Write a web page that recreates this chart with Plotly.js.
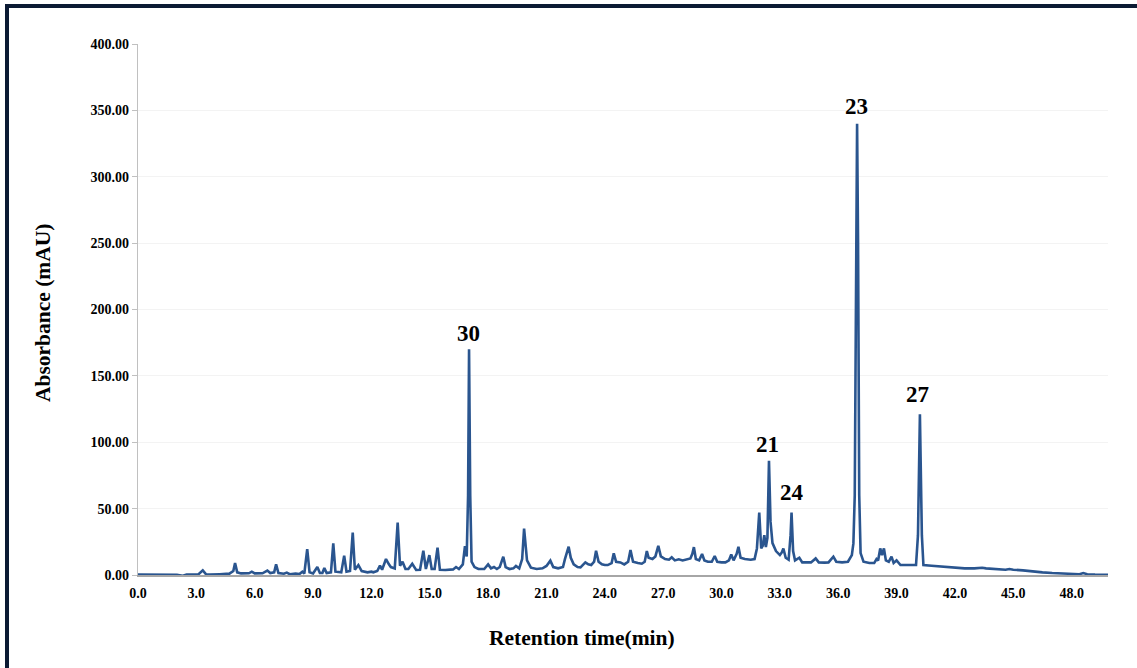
<!DOCTYPE html>
<html>
<head>
<meta charset="utf-8">
<script src="https://cdn.plot.ly/plotly-3.0.1.min.js"></script>
<style>
  html, body { margin: 0; padding: 0; background: #fff; overflow: hidden; }
  #wrap { position: relative; width: 1137px; height: 668px; }
  #chart { width: 1137px; height: 668px; }
  #frame { position: absolute; left: 5px; top: 4px; width: 1140px; height: 700px;
           border-top: 4px solid #0b1a33; border-left: 4px solid #0b1a33; pointer-events: none; }
</style>
</head>
<body>
<div id="wrap">
  <div id="chart"></div>
  <div id="frame"></div>
</div>
<script>
// Retention time (min) and absorbance (mAU)
const retentionTime = [
  0.0, 1.0, 2.0, 2.3, 2.5, 3.1, 3.33, 3.5, 3.7, 4.2, 4.7, 4.9, 4.99, 5.1, 5.3, 5.7, 5.85, 6.0, 6.4, 6.65,
  6.8, 7.0, 7.1, 7.22, 7.5, 7.65, 7.8, 8.1, 8.3, 8.45, 8.55, 8.7, 8.82, 9.0, 9.22, 9.35, 9.48, 9.58, 9.7, 9.92,
  10.04, 10.15, 10.45, 10.6, 10.72, 10.9, 11.04, 11.15, 11.33, 11.5, 11.8, 12.0, 12.1, 12.3, 12.44, 12.55, 12.75, 12.9, 13.0, 13.2,
  13.35, 13.47, 13.6, 13.75, 13.9, 14.1, 14.3, 14.5, 14.67, 14.8, 14.98, 15.1, 15.25, 15.4, 15.52, 15.8, 16.0, 16.2, 16.35, 16.5,
  16.7, 16.81, 16.9, 16.97, 17.02, 17.08, 17.15, 17.3, 17.5, 17.8, 18.0, 18.15, 18.3, 18.45, 18.6, 18.78, 18.9, 19.1, 19.3, 19.43,
  19.6, 19.75, 19.85, 19.92, 20.0, 20.2, 20.5, 20.8, 21.0, 21.2, 21.35, 21.6, 21.85, 21.95, 22.05, 22.14, 22.25, 22.4, 22.6, 22.75,
  22.9, 23.0, 23.15, 23.3, 23.45, 23.55, 23.68, 23.85, 24.0, 24.15, 24.35, 24.46, 24.58, 24.8, 25.0, 25.2, 25.32, 25.45, 25.7, 25.9,
  26.05, 26.16, 26.25, 26.45, 26.6, 26.75, 26.88, 27.1, 27.3, 27.44, 27.6, 27.8, 28.0, 28.2, 28.4, 28.5, 28.58, 28.68, 28.85, 29.0,
  29.12, 29.3, 29.5, 29.65, 29.78, 30.0, 30.2, 30.38, 30.5, 30.62, 30.78, 30.87, 30.98, 31.2, 31.5, 31.7, 31.82, 31.94, 32.04, 32.12,
  32.2, 32.28, 32.36, 32.44, 32.52, 32.62, 32.8, 33.0, 33.1, 33.18, 33.3, 33.45, 33.55, 33.6, 33.68, 33.78, 34.0, 34.15, 34.4, 34.6,
  34.84, 35.0, 35.3, 35.5, 35.75, 35.9, 36.2, 36.5, 36.7, 36.78, 36.85, 36.92, 36.97, 37.02, 37.08, 37.15, 37.3, 37.6, 37.85, 37.97,
  38.05, 38.16, 38.25, 38.35, 38.45, 38.6, 38.74, 38.85, 39.0, 39.2, 39.6, 40.0, 40.1, 40.2, 40.3, 40.38, 40.8, 41.2, 41.5, 42.0,
  42.5, 43.0, 43.4, 43.6, 44.0, 44.6, 44.8, 45.0, 45.5, 46.0, 46.5, 47.0, 47.5, 48.0, 48.4, 48.6, 48.8, 49.2, 49.87
];
const absorbance = [
  0.3, 0.3, 0.2, -0.5, 0.3, 0.4, 3.5, 0.5, 0.3, 0.6, 1.0, 3.0, 9.0, 2.0, 1.2, 1.3, 2.5, 1.2, 1.3, 3.3,
  1.5, 2.0, 8.0, 1.5, 1.0, 1.8, 0.6, 1.0, 0.7, 2.5, 1.0, 19.5, 2.0, 1.2, 6.0, 1.5, 1.6, 5.2, 1.5, 2.0,
  23.8, 2.5, 2.0, 14.6, 2.5, 3.0, 32.0, 4.0, 7.5, 3.0, 2.0, 2.5, 2.0, 3.0, 7.0, 4.0, 12.0, 8.0, 6.0, 5.0,
  39.5, 7.0, 10.0, 4.5, 4.5, 8.5, 3.8, 4.0, 18.3, 4.5, 15.0, 4.5, 4.5, 20.6, 4.0, 3.8, 4.0, 4.2, 6.0, 4.5,
  8.0, 21.8, 14.0, 60.0, 170.0, 60.0, 10.0, 6.0, 4.5, 4.5, 8.0, 5.0, 6.0, 4.5, 6.0, 13.8, 6.0, 4.5, 5.0, 6.8,
  5.0, 12.0, 35.0, 20.0, 11.0, 5.5, 4.5, 5.0, 6.8, 10.8, 6.0, 5.0, 6.0, 12.0, 17.0, 21.3, 13.0, 8.0, 6.0, 5.8,
  8.0, 9.5, 8.0, 7.5, 10.0, 18.3, 10.0, 8.0, 7.5, 7.5, 9.0, 16.3, 10.0, 9.5, 8.0, 10.0, 18.8, 10.0, 9.0, 8.5,
  10.0, 18.0, 13.0, 12.0, 14.0, 22.0, 14.0, 12.0, 11.5, 13.3, 11.0, 11.8, 11.0, 12.0, 12.5, 16.0, 21.0, 12.0, 11.0, 15.8,
  11.0, 10.0, 10.0, 14.3, 10.0, 9.5, 9.5, 11.0, 15.5, 11.0, 16.0, 21.3, 13.0, 12.0, 11.5, 12.0, 20.0, 47.0, 20.0, 22.0,
  30.0, 21.0, 28.0, 86.0, 40.0, 24.0, 18.0, 15.0, 17.0, 20.0, 13.0, 11.5, 30.0, 47.0, 18.0, 11.0, 13.0, 9.5, 9.3, 9.5,
  12.5, 9.5, 9.3, 9.5, 13.8, 10.0, 9.5, 10.0, 15.0, 23.8, 60.0, 250.0, 340.0, 250.0, 60.0, 16.5, 10.0, 9.0, 9.0, 12.0,
  11.0, 20.0, 15.0, 20.0, 11.0, 10.0, 13.8, 9.0, 11.0, 7.5, 7.5, 7.5, 30.0, 121.0, 30.0, 7.5, 7.0, 6.5, 6.0, 5.5,
  5.0, 5.0, 5.5, 5.0, 4.5, 4.0, 4.5, 4.0, 3.5, 2.5, 2.0, 1.5, 1.2, 1.0, 0.6, 1.5, 0.6, 0.3, 0.2
];

// Peak labels
const peakLabels = ['30', '21', '24', '23', '27'];
const peakLabelX = [17.0, 32.35, 33.6, 36.93, 40.1];
const peakLabelY = [182, 98, 62.5, 353, 136];

// Axis ticks
const xTickVals = [0, 3, 6, 9, 12, 15, 18, 21, 24, 27, 30, 33, 36, 39, 42, 45, 48];
const yTickVals = [0, 50, 100, 150, 200, 250, 300, 350, 400];

const serifBold = 'Liberation Serif, Times New Roman, serif';

const trace = {
  x: retentionTime,
  y: absorbance,
  type: 'scatter',
  mode: 'lines',
  line: { color: '#2a558f', width: 2.6 },
  hoverinfo: 'x+y'
};

const annotations = peakLabels.map((t, i) => ({
  x: peakLabelX[i], y: peakLabelY[i], xref: 'x', yref: 'y',
  text: '<b>' + t + '</b>', showarrow: false,
  font: { family: serifBold, size: 23, color: '#000' }
}));
annotations.push({
  xref: 'paper', yref: 'paper', x: 0.458, y: -0.118, xanchor: 'center', yanchor: 'middle',
  text: '<b>Retention time(min)</b>', showarrow: false,
  font: { family: serifBold, size: 21.5, color: '#000' }
});
annotations.push({
  xref: 'paper', yref: 'paper', x: -0.098, y: 0.495, xanchor: 'center', yanchor: 'middle',
  text: '<b>Absorbance (mAU)</b>', showarrow: false, textangle: -90,
  font: { family: serifBold, size: 21.5, color: '#000' }
});

const layout = {
  width: 1137, height: 668,
  margin: { l: 138, r: 29, t: 44, b: 93 },
  paper_bgcolor: '#ffffff', plot_bgcolor: '#ffffff',
  showlegend: false,
  xaxis: {
    range: [0, 49.87], tickvals: xTickVals,
    ticktext: xTickVals.map(v => v.toFixed(1)),
    showgrid: false, zeroline: false,
    showline: true, linecolor: '#a6a6a6', linewidth: 1.5,
    ticks: '', ticklabelstandoff: 5,
    tickfont: { family: serifBold, size: 14, color: '#000', weight: 'bold' }
  },
  yaxis: {
    range: [0, 400], tickvals: yTickVals,
    ticktext: yTickVals.map(v => v.toFixed(2)),
    showgrid: true, gridcolor: '#f3f3f3', gridwidth: 1,
    zeroline: false,
    showline: true, linecolor: '#c0c0c0', linewidth: 1.2,
    ticks: 'outside', ticklen: 5, tickcolor: '#c0c0c0',
    tickfont: { family: serifBold, size: 14, color: '#000', weight: 'bold' }
  },
  annotations: annotations
};

Plotly.newPlot('chart', [trace], layout, { displayModeBar: false, staticPlot: true });
</script>
</body>
</html>
